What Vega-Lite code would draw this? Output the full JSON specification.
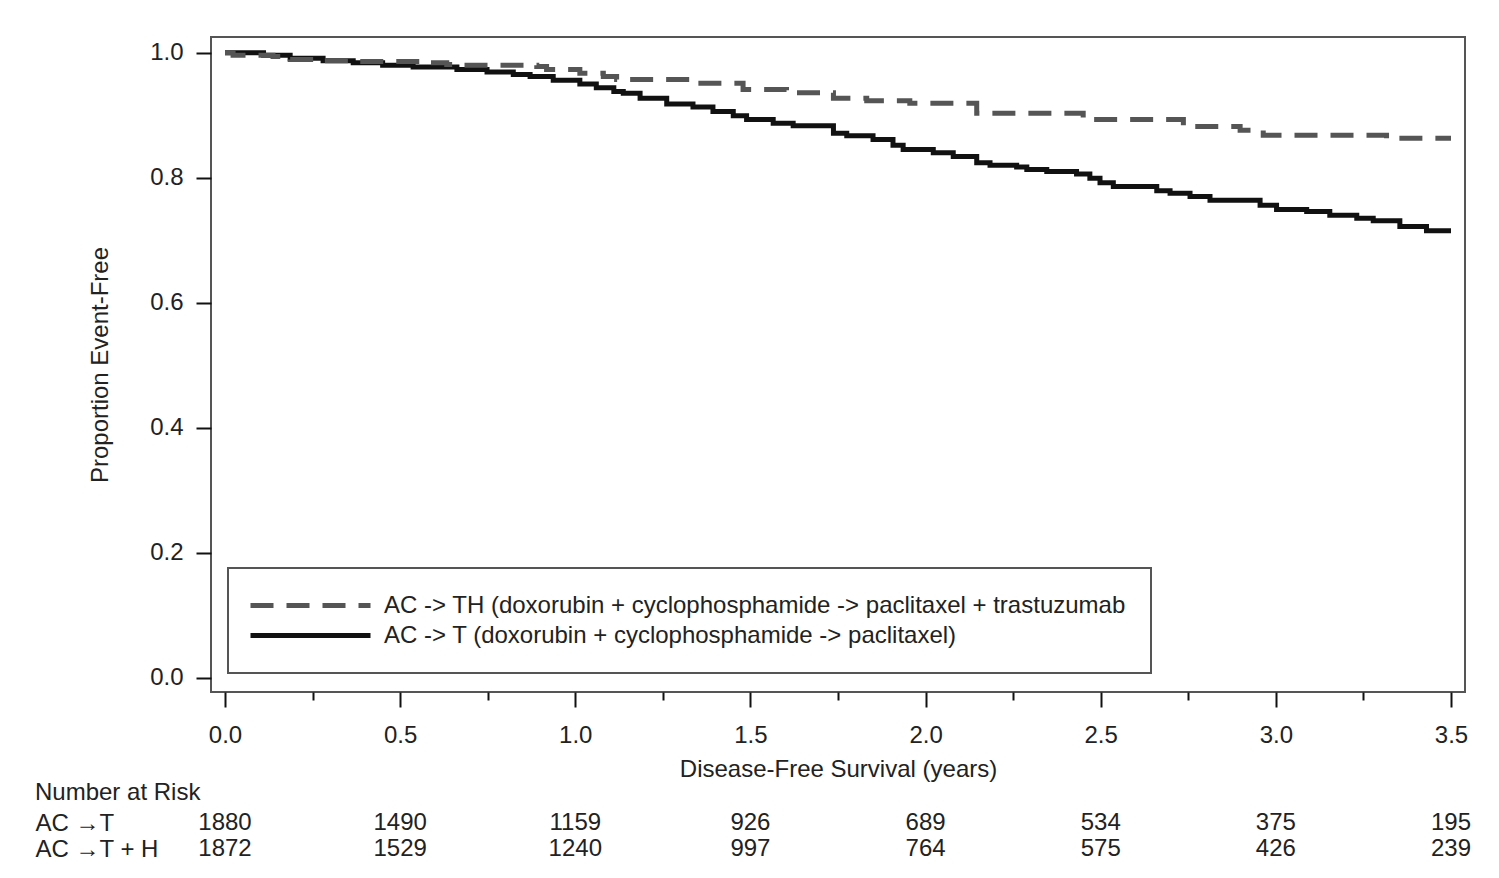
{
  "$schema": "https://vega.github.io/schema/vega-lite/v6.json",
  "padding": {"left": 35, "top": 36, "right": 5, "bottom": 5},
  "background": "white",
  "config": {
    "font": "Liberation Sans",
    "view": {"stroke": "#555555", "strokeWidth": 2},
    "axis": {"labelFont": "Liberation Sans", "titleFont": "Liberation Sans", "labelColor": "#222222", "titleColor": "#222222", "labelFontSize": 24, "titleFontSize": 24, "titleFontWeight": "normal", "grid": false, "domain": false, "tickColor": "#111111", "tickWidth": 2},
    "legend": {"labelFont": "Liberation Sans", "labelColor": "#222222"},
    "title": {"font": "Liberation Sans", "color": "#222222", "fontWeight": "normal", "fontSize": 24}
  },
  "datasets": {
    "km": [
      {"arm": "AC -> T (doxorubin + cyclophosphamide -> paclitaxel)", "t": 0, "p": 1.0},
      {"arm": "AC -> T (doxorubin + cyclophosphamide -> paclitaxel)", "t": 0.11, "p": 0.996},
      {"arm": "AC -> T (doxorubin + cyclophosphamide -> paclitaxel)", "t": 0.186, "p": 0.991},
      {"arm": "AC -> T (doxorubin + cyclophosphamide -> paclitaxel)", "t": 0.28, "p": 0.987},
      {"arm": "AC -> T (doxorubin + cyclophosphamide -> paclitaxel)", "t": 0.366, "p": 0.984},
      {"arm": "AC -> T (doxorubin + cyclophosphamide -> paclitaxel)", "t": 0.45, "p": 0.98},
      {"arm": "AC -> T (doxorubin + cyclophosphamide -> paclitaxel)", "t": 0.537, "p": 0.977},
      {"arm": "AC -> T (doxorubin + cyclophosphamide -> paclitaxel)", "t": 0.662, "p": 0.973},
      {"arm": "AC -> T (doxorubin + cyclophosphamide -> paclitaxel)", "t": 0.748, "p": 0.969},
      {"arm": "AC -> T (doxorubin + cyclophosphamide -> paclitaxel)", "t": 0.823, "p": 0.965},
      {"arm": "AC -> T (doxorubin + cyclophosphamide -> paclitaxel)", "t": 0.871, "p": 0.962},
      {"arm": "AC -> T (doxorubin + cyclophosphamide -> paclitaxel)", "t": 0.937, "p": 0.956},
      {"arm": "AC -> T (doxorubin + cyclophosphamide -> paclitaxel)", "t": 1.013, "p": 0.95},
      {"arm": "AC -> T (doxorubin + cyclophosphamide -> paclitaxel)", "t": 1.06, "p": 0.944},
      {"arm": "AC -> T (doxorubin + cyclophosphamide -> paclitaxel)", "t": 1.11, "p": 0.938},
      {"arm": "AC -> T (doxorubin + cyclophosphamide -> paclitaxel)", "t": 1.137, "p": 0.935},
      {"arm": "AC -> T (doxorubin + cyclophosphamide -> paclitaxel)", "t": 1.185, "p": 0.927},
      {"arm": "AC -> T (doxorubin + cyclophosphamide -> paclitaxel)", "t": 1.261, "p": 0.918},
      {"arm": "AC -> T (doxorubin + cyclophosphamide -> paclitaxel)", "t": 1.336, "p": 0.913},
      {"arm": "AC -> T (doxorubin + cyclophosphamide -> paclitaxel)", "t": 1.393, "p": 0.906},
      {"arm": "AC -> T (doxorubin + cyclophosphamide -> paclitaxel)", "t": 1.451, "p": 0.899},
      {"arm": "AC -> T (doxorubin + cyclophosphamide -> paclitaxel)", "t": 1.489, "p": 0.893},
      {"arm": "AC -> T (doxorubin + cyclophosphamide -> paclitaxel)", "t": 1.565, "p": 0.887},
      {"arm": "AC -> T (doxorubin + cyclophosphamide -> paclitaxel)", "t": 1.622, "p": 0.883},
      {"arm": "AC -> T (doxorubin + cyclophosphamide -> paclitaxel)", "t": 1.737, "p": 0.871},
      {"arm": "AC -> T (doxorubin + cyclophosphamide -> paclitaxel)", "t": 1.775, "p": 0.867},
      {"arm": "AC -> T (doxorubin + cyclophosphamide -> paclitaxel)", "t": 1.85, "p": 0.861},
      {"arm": "AC -> T (doxorubin + cyclophosphamide -> paclitaxel)", "t": 1.907, "p": 0.852},
      {"arm": "AC -> T (doxorubin + cyclophosphamide -> paclitaxel)", "t": 1.936, "p": 0.845},
      {"arm": "AC -> T (doxorubin + cyclophosphamide -> paclitaxel)", "t": 2.022, "p": 0.84},
      {"arm": "AC -> T (doxorubin + cyclophosphamide -> paclitaxel)", "t": 2.079, "p": 0.834},
      {"arm": "AC -> T (doxorubin + cyclophosphamide -> paclitaxel)", "t": 2.146, "p": 0.824},
      {"arm": "AC -> T (doxorubin + cyclophosphamide -> paclitaxel)", "t": 2.184, "p": 0.82},
      {"arm": "AC -> T (doxorubin + cyclophosphamide -> paclitaxel)", "t": 2.26, "p": 0.817},
      {"arm": "AC -> T (doxorubin + cyclophosphamide -> paclitaxel)", "t": 2.289, "p": 0.813},
      {"arm": "AC -> T (doxorubin + cyclophosphamide -> paclitaxel)", "t": 2.346, "p": 0.81},
      {"arm": "AC -> T (doxorubin + cyclophosphamide -> paclitaxel)", "t": 2.431, "p": 0.806},
      {"arm": "AC -> T (doxorubin + cyclophosphamide -> paclitaxel)", "t": 2.469, "p": 0.799},
      {"arm": "AC -> T (doxorubin + cyclophosphamide -> paclitaxel)", "t": 2.498, "p": 0.792},
      {"arm": "AC -> T (doxorubin + cyclophosphamide -> paclitaxel)", "t": 2.536, "p": 0.786},
      {"arm": "AC -> T (doxorubin + cyclophosphamide -> paclitaxel)", "t": 2.66, "p": 0.779},
      {"arm": "AC -> T (doxorubin + cyclophosphamide -> paclitaxel)", "t": 2.698, "p": 0.775},
      {"arm": "AC -> T (doxorubin + cyclophosphamide -> paclitaxel)", "t": 2.755, "p": 0.77},
      {"arm": "AC -> T (doxorubin + cyclophosphamide -> paclitaxel)", "t": 2.812, "p": 0.764},
      {"arm": "AC -> T (doxorubin + cyclophosphamide -> paclitaxel)", "t": 2.955, "p": 0.756},
      {"arm": "AC -> T (doxorubin + cyclophosphamide -> paclitaxel)", "t": 3.002, "p": 0.749},
      {"arm": "AC -> T (doxorubin + cyclophosphamide -> paclitaxel)", "t": 3.088, "p": 0.746},
      {"arm": "AC -> T (doxorubin + cyclophosphamide -> paclitaxel)", "t": 3.154, "p": 0.74},
      {"arm": "AC -> T (doxorubin + cyclophosphamide -> paclitaxel)", "t": 3.231, "p": 0.735},
      {"arm": "AC -> T (doxorubin + cyclophosphamide -> paclitaxel)", "t": 3.278, "p": 0.731},
      {"arm": "AC -> T (doxorubin + cyclophosphamide -> paclitaxel)", "t": 3.354, "p": 0.722},
      {"arm": "AC -> T (doxorubin + cyclophosphamide -> paclitaxel)", "t": 3.43, "p": 0.715},
      {"arm": "AC -> T (doxorubin + cyclophosphamide -> paclitaxel)", "t": 3.5, "p": 0.715},
      {"arm": "AC -> TH (doxorubin + cyclophosphamide -> paclitaxel + trastuzumab", "t": 0, "p": 1.0},
      {"arm": "AC -> TH (doxorubin + cyclophosphamide -> paclitaxel + trastuzumab", "t": 0.023, "p": 0.996},
      {"arm": "AC -> TH (doxorubin + cyclophosphamide -> paclitaxel + trastuzumab", "t": 0.137, "p": 0.994},
      {"arm": "AC -> TH (doxorubin + cyclophosphamide -> paclitaxel + trastuzumab", "t": 0.186, "p": 0.989},
      {"arm": "AC -> TH (doxorubin + cyclophosphamide -> paclitaxel + trastuzumab", "t": 0.262, "p": 0.987},
      {"arm": "AC -> TH (doxorubin + cyclophosphamide -> paclitaxel + trastuzumab", "t": 0.366, "p": 0.986},
      {"arm": "AC -> TH (doxorubin + cyclophosphamide -> paclitaxel + trastuzumab", "t": 0.557, "p": 0.984},
      {"arm": "AC -> TH (doxorubin + cyclophosphamide -> paclitaxel + trastuzumab", "t": 0.633, "p": 0.981},
      {"arm": "AC -> TH (doxorubin + cyclophosphamide -> paclitaxel + trastuzumab", "t": 0.68, "p": 0.98},
      {"arm": "AC -> TH (doxorubin + cyclophosphamide -> paclitaxel + trastuzumab", "t": 0.89, "p": 0.978},
      {"arm": "AC -> TH (doxorubin + cyclophosphamide -> paclitaxel + trastuzumab", "t": 0.918, "p": 0.973},
      {"arm": "AC -> TH (doxorubin + cyclophosphamide -> paclitaxel + trastuzumab", "t": 1.013, "p": 0.967},
      {"arm": "AC -> TH (doxorubin + cyclophosphamide -> paclitaxel + trastuzumab", "t": 1.08, "p": 0.962},
      {"arm": "AC -> TH (doxorubin + cyclophosphamide -> paclitaxel + trastuzumab", "t": 1.118, "p": 0.957},
      {"arm": "AC -> TH (doxorubin + cyclophosphamide -> paclitaxel + trastuzumab", "t": 1.318, "p": 0.951},
      {"arm": "AC -> TH (doxorubin + cyclophosphamide -> paclitaxel + trastuzumab", "t": 1.479, "p": 0.941},
      {"arm": "AC -> TH (doxorubin + cyclophosphamide -> paclitaxel + trastuzumab", "t": 1.603, "p": 0.936},
      {"arm": "AC -> TH (doxorubin + cyclophosphamide -> paclitaxel + trastuzumab", "t": 1.737, "p": 0.927},
      {"arm": "AC -> TH (doxorubin + cyclophosphamide -> paclitaxel + trastuzumab", "t": 1.832, "p": 0.923},
      {"arm": "AC -> TH (doxorubin + cyclophosphamide -> paclitaxel + trastuzumab", "t": 1.955, "p": 0.919},
      {"arm": "AC -> TH (doxorubin + cyclophosphamide -> paclitaxel + trastuzumab", "t": 2.146, "p": 0.903},
      {"arm": "AC -> TH (doxorubin + cyclophosphamide -> paclitaxel + trastuzumab", "t": 2.45, "p": 0.893},
      {"arm": "AC -> TH (doxorubin + cyclophosphamide -> paclitaxel + trastuzumab", "t": 2.736, "p": 0.882},
      {"arm": "AC -> TH (doxorubin + cyclophosphamide -> paclitaxel + trastuzumab", "t": 2.898, "p": 0.876},
      {"arm": "AC -> TH (doxorubin + cyclophosphamide -> paclitaxel + trastuzumab", "t": 2.964, "p": 0.868},
      {"arm": "AC -> TH (doxorubin + cyclophosphamide -> paclitaxel + trastuzumab", "t": 3.316, "p": 0.863},
      {"arm": "AC -> TH (doxorubin + cyclophosphamide -> paclitaxel + trastuzumab", "t": 3.5, "p": 0.863}
    ],
    "risk": [
      {"group": "AC →T", "t": 0, "n": 1880},
      {"group": "AC →T", "t": 0.5, "n": 1490},
      {"group": "AC →T", "t": 1.0, "n": 1159},
      {"group": "AC →T", "t": 1.5, "n": 926},
      {"group": "AC →T", "t": 2.0, "n": 689},
      {"group": "AC →T", "t": 2.5, "n": 534},
      {"group": "AC →T", "t": 3.0, "n": 375},
      {"group": "AC →T", "t": 3.5, "n": 195},
      {"group": "AC →T + H", "t": 0, "n": 1872},
      {"group": "AC →T + H", "t": 0.5, "n": 1529},
      {"group": "AC →T + H", "t": 1.0, "n": 1240},
      {"group": "AC →T + H", "t": 1.5, "n": 997},
      {"group": "AC →T + H", "t": 2.0, "n": 764},
      {"group": "AC →T + H", "t": 2.5, "n": 575},
      {"group": "AC →T + H", "t": 3.0, "n": 426},
      {"group": "AC →T + H", "t": 3.5, "n": 239}
    ]
  },
  "vconcat": [
    {
      "width": 1254,
      "height": 655,
      "data": {"name": "km"},
      "mark": {"type": "line", "interpolate": "step-after", "strokeWidth": 5, "strokeCap": "butt"},
      "encoding": {
        "x": {"field": "t", "type": "quantitative", "scale": {"domain": [-0.04, 3.54], "nice": false, "zero": false},
          "axis": {"title": "Disease-Free Survival (years)", "values": [0, 0.25, 0.5, 0.75, 1, 1.25, 1.5, 1.75, 2, 2.25, 2.5, 2.75, 3, 3.25, 3.5],
            "labelExpr": "datum.value % 0.5 === 0 ? format(datum.value, '.1f') : ''",
            "tickSize": {"condition": {"test": "datum.value % 0.5 !== 0", "value": 8}, "value": 15},
            "labelPadding": 16, "titlePadding": 10, "labelFlush": false}},
        "y": {"field": "p", "type": "quantitative", "scale": {"domain": [-0.0229, 1.0251], "nice": false, "zero": false},
          "axis": {"title": "Proportion Event-Free", "values": [0, 0.2, 0.4, 0.6, 0.8, 1.0], "format": ".1f", "tickSize": 15, "labelPadding": 13, "titlePadding": 37}},
        "color": {"field": "arm", "type": "nominal",
          "scale": {"domain": ["AC -> TH (doxorubin + cyclophosphamide -> paclitaxel + trastuzumab", "AC -> T (doxorubin + cyclophosphamide -> paclitaxel)"], "range": ["#555555", "#111111"]},
          "legend": {"title": null, "orient": "none", "legendX": 17, "legendY": 531, "strokeColor": "#555555", "padding": 25, "labelFontSize": 24, "labelLimit": 2000, "symbolType": "M-1.5,0H10.5", "symbolSize": 400, "symbolStrokeWidth": 5, "labelOffset": 106, "rowPadding": 5, "fillColor": "white",
            "encode": {"legend": {"update": {"strokeWidth": {"value": 2}}}}}},
        "strokeDash": {"field": "arm", "type": "nominal",
          "scale": {"domain": ["AC -> TH (doxorubin + cyclophosphamide -> paclitaxel + trastuzumab", "AC -> T (doxorubin + cyclophosphamide -> paclitaxel)"], "range": [[23, 13], [1, 0]]},
          "legend": {"title": null, "orient": "none", "legendX": 17, "legendY": 531, "strokeColor": "#555555", "padding": 25, "labelFontSize": 24, "labelLimit": 2000, "symbolType": "M-1.5,0H10.5", "symbolSize": 400, "symbolStrokeWidth": 5, "labelOffset": 106, "rowPadding": 5, "fillColor": "white",
            "encode": {"legend": {"update": {"strokeWidth": {"value": 2}}}}}}
      }
    },
    {
      "width": 1254,
      "height": 52,
      "view": {"stroke": null},
      "title": {"text": "Number at Risk", "anchor": "start", "frame": "bounds", "offset": 5, "fontSize": 24},
      "data": {"name": "risk"},
      "mark": {"type": "text", "fontSize": 24, "align": "center", "baseline": "middle", "color": "#222222"},
      "encoding": {
        "x": {"field": "t", "type": "quantitative", "scale": {"domain": [-0.04, 3.54], "nice": false, "zero": false}, "axis": null},
        "y": {"field": "group", "type": "nominal", "scale": {"type": "point", "padding": 0.5, "domain": ["AC →T", "AC →T + H"]},
          "axis": {"title": null, "orient": "left", "ticks": false, "tickSize": 0, "domain": false, "labelAlign": "left", "labelPadding": 176, "labelFontSize": 24}},
        "text": {"field": "n", "type": "nominal"}
      }
    }
  ],
  "spacing": -1
}
